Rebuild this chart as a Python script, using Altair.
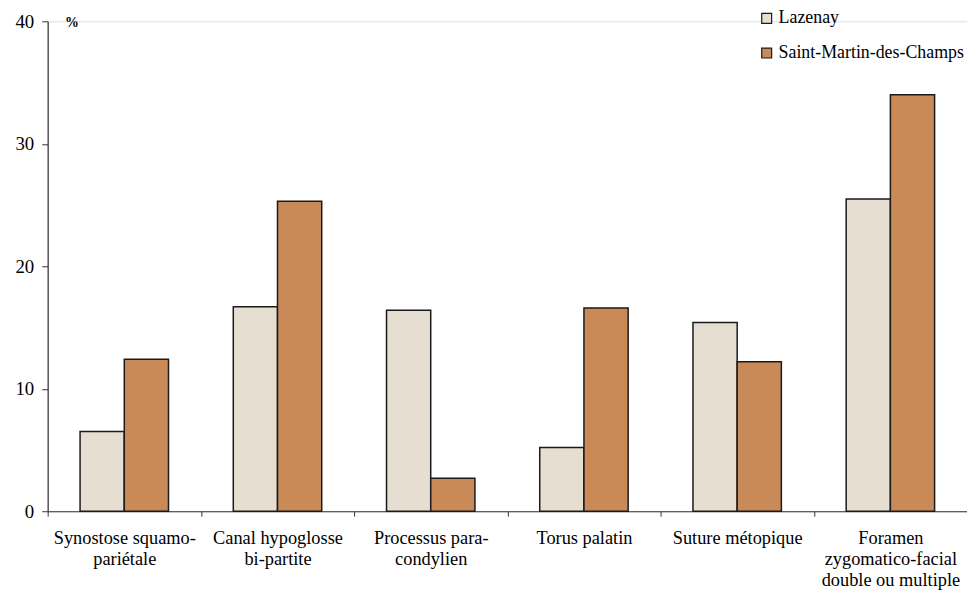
import altair as alt
import pandas as pd

categories = [
    "Synostose squamo-|pariétale",
    "Canal hypoglosse|bi-partite",
    "Processus para-|condylien",
    "Torus palatin",
    "Suture métopique",
    "Foramen|zygomatico-facial|double ou multiple",
]
series = ["Lazenay", "Saint-Martin-des-Champs"]
lazenay = [6.5, 16.7, 16.4, 5.2, 15.4, 25.5]
saint_martin = [12.4, 25.3, 2.7, 16.6, 12.2, 34.0]
colors = ["#e6ded0", "#c98a58"]

rows = []
for i, c in enumerate(categories):
    rows.append({"cat": c, "serie": series[0], "val": lazenay[i]})
    rows.append({"cat": c, "serie": series[1], "val": saint_martin[i]})
df = pd.DataFrame(rows)

FONT = "Liberation Serif"

chart = alt.Chart(df).mark_bar(stroke="#1a1a1a", strokeWidth=1.5).encode(
    x=alt.X("cat:N", sort=categories,
            scale=alt.Scale(paddingInner=0, paddingOuter=0),
            axis=alt.Axis(title=None, labelAngle=0, tickBand="extent",
                          labelExpr="split(datum.label, '|')",
                          labelFont=FONT, labelFontSize=18.5, labelLineHeight=21,
                          labelColor="black", labelPadding=13, tickSize=5,
                          tickColor="#333", domainColor="#333", domainWidth=1.2)),
    xOffset=alt.XOffset("serie:N", sort=series,
                        scale=alt.Scale(paddingInner=0, paddingOuter=0.733)),
    y=alt.Y("val:Q", scale=alt.Scale(domain=[0, 40]),
            axis=alt.Axis(values=[0, 10, 20, 30, 40], title="%", titleAngle=0,
                          titleX=24, titleY=1, titleAlign="center",
                          titleBaseline="middle", titleFont=FONT,
                          titleFontSize=14, titleFontWeight="bold",
                          titleColor="black", grid=False,
                          labelFont=FONT, labelFontSize=19, labelColor="black",
                          labelPadding=8, tickSize=6, tickColor="#333",
                          domainColor="#333", domainWidth=1.2)),
    color=alt.Color("serie:N", sort=series,
                    scale=alt.Scale(domain=series, range=colors),
                    legend=alt.Legend(title=None, orient="none",
                                      legendX=716, legendY=-12,
                                      symbolType="square", symbolSize=100,
                                      symbolStrokeColor="#1a1a1a",
                                      symbolStrokeWidth=1.2, symbolOpacity=1,
                                      labelFont=FONT, labelFontSize=18,
                                      labelColor="black", rowPadding=17,
                                      labelOffset=3, labelLimit=400)),
).properties(
    width=927, height=494,
    padding={"left": 40, "top": 11, "right": 0, "bottom": 77},
    autosize=alt.AutoSizeParams(type="none"),
).configure_view(stroke=None).configure(font=FONT)

chart.save("out.html", embed_options={"renderer": "svg", "actions": False})
